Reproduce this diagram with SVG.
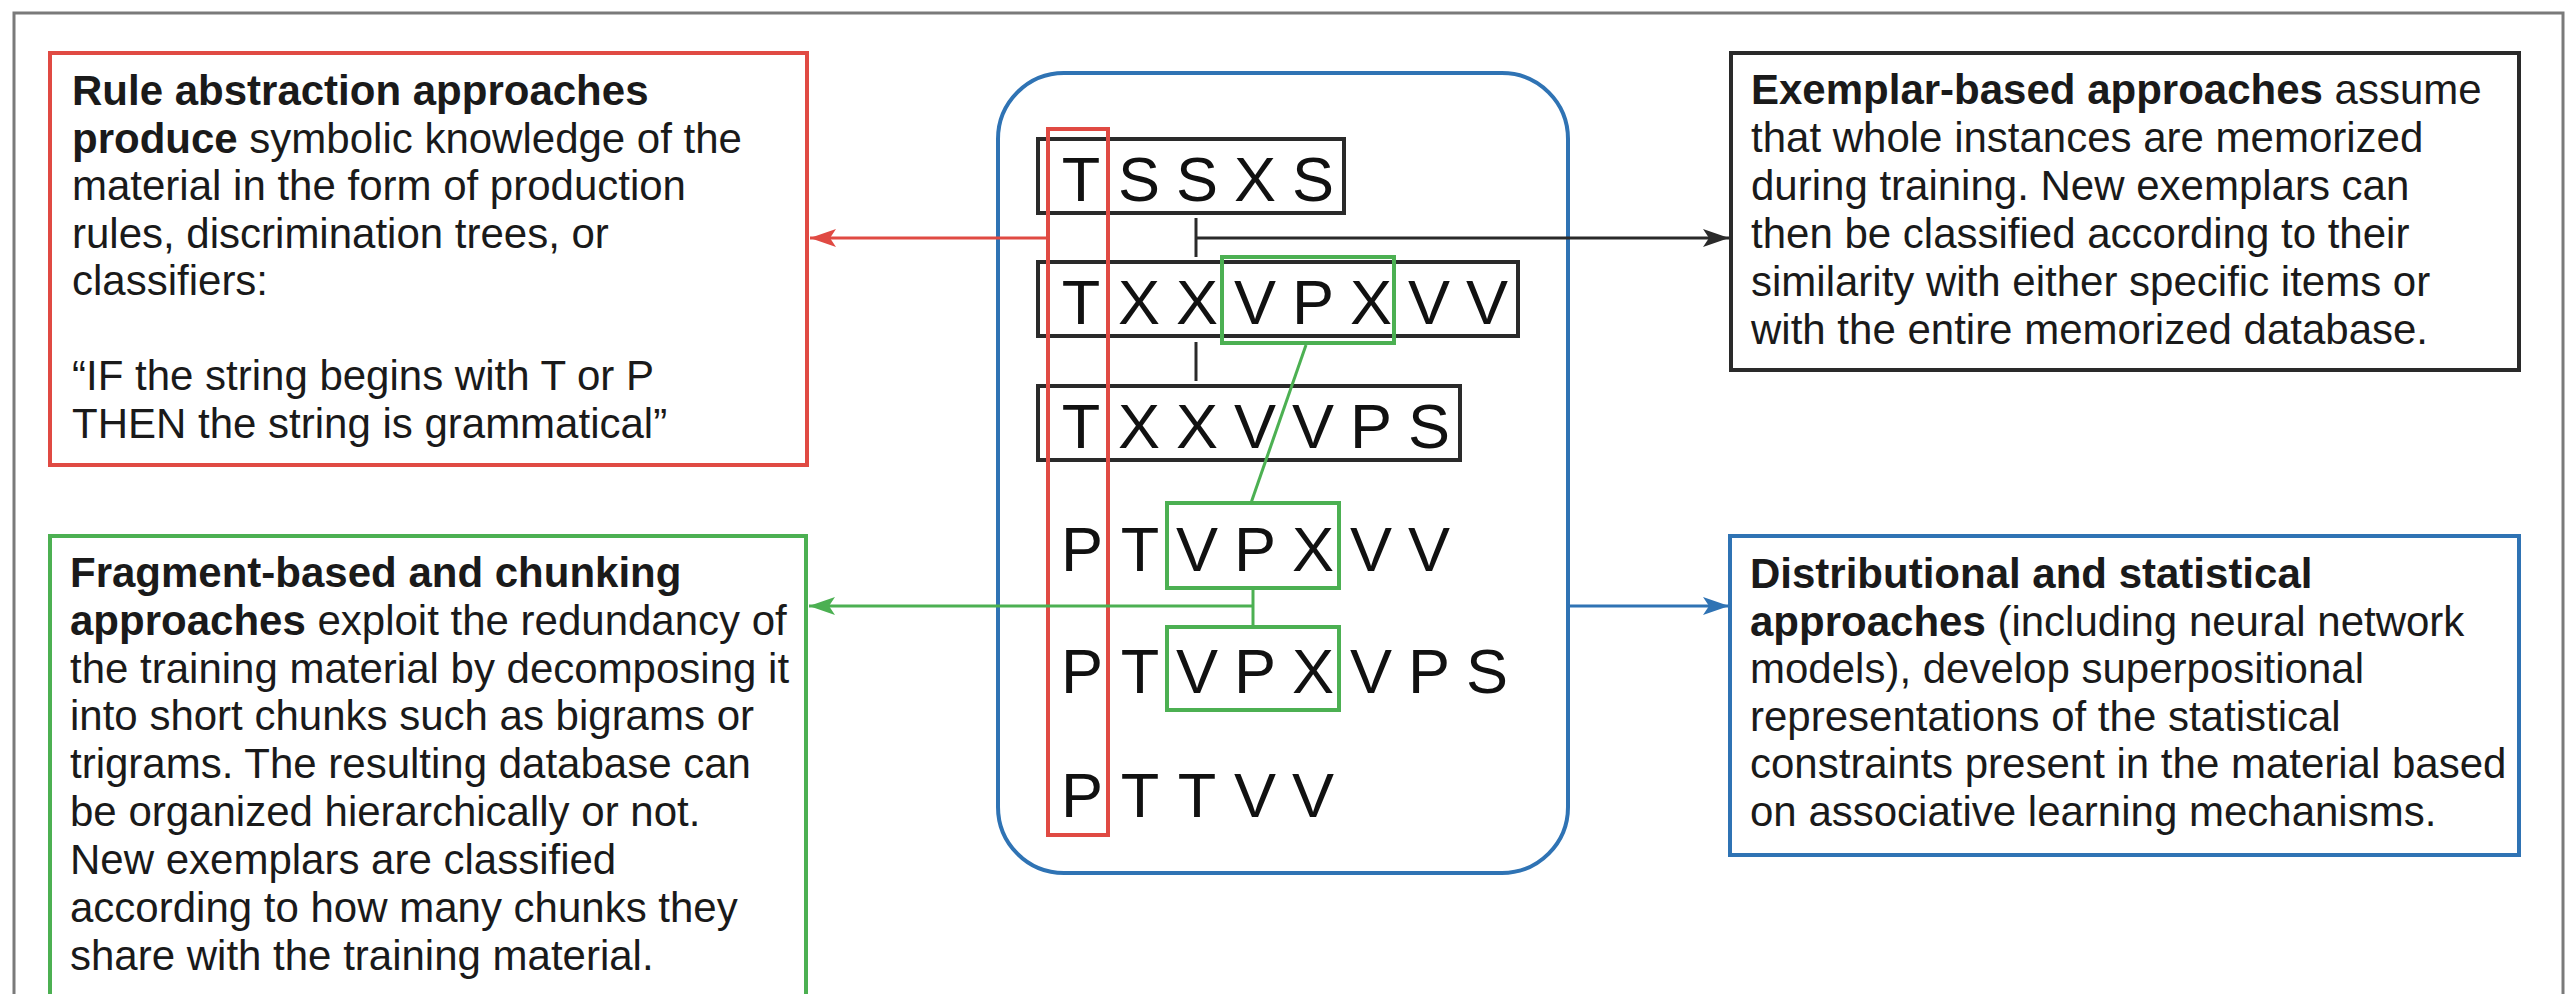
<svg xmlns="http://www.w3.org/2000/svg" width="2574" height="994" viewBox="0 0 2574 994">
<style>
.txt{font-family:"Liberation Sans",Arial,Helvetica,sans-serif;font-size:42px;fill:#1a1a1a}
.b{font-weight:bold}
.let{font-family:"Liberation Sans",Arial,Helvetica,sans-serif;font-size:63px;fill:#111;text-anchor:middle}
.box{fill:#fff;stroke-width:4}
.red{stroke:#e04a43}
.green{stroke:#4cb052}
.blue{stroke:#2f73b4}
.blk{stroke:#2a2a2a}
.lbox{fill:none;stroke:#2a2a2a;stroke-width:4}
.conn{fill:none;stroke-width:3}
</style>
<defs>
<marker id="aR" markerUnits="userSpaceOnUse" markerWidth="26" markerHeight="18" refX="26" refY="9" orient="auto"><path d="M0,0 L26,9 L0,18 L6,9 z" fill="#e04a43"/></marker>
<marker id="aG" markerUnits="userSpaceOnUse" markerWidth="26" markerHeight="18" refX="26" refY="9" orient="auto"><path d="M0,0 L26,9 L0,18 L6,9 z" fill="#4cb052"/></marker>
<marker id="aB" markerUnits="userSpaceOnUse" markerWidth="26" markerHeight="18" refX="26" refY="9" orient="auto"><path d="M0,0 L26,9 L0,18 L6,9 z" fill="#2f73b4"/></marker>
<marker id="aK" markerUnits="userSpaceOnUse" markerWidth="26" markerHeight="18" refX="26" refY="9" orient="auto"><path d="M0,0 L26,9 L0,18 L6,9 z" fill="#2a2a2a"/></marker>
</defs>
<rect x="0" y="0" width="2574" height="994" fill="#fff"/>
<rect id="frame" x="14" y="13" width="2549" height="1010" fill="none" stroke="#7a7a7a" stroke-width="3"/>

<g id="rule-box">
<rect class="box red" x="50" y="53" width="757" height="412"/>
<text class="txt" x="72" y="105"><tspan class="b">Rule abstraction approaches</tspan></text>
<text class="txt" x="72" y="152.5"><tspan class="b">produce</tspan> symbolic knowledge of the</text>
<text class="txt" x="72" y="200">material in the form of production</text>
<text class="txt" x="72" y="247.5">rules, discrimination trees, or</text>
<text class="txt" x="72" y="295">classifiers:</text>
<text class="txt" x="72" y="390">“IF the string begins with T or P</text>
<text class="txt" x="72" y="437.5">THEN the string is grammatical”</text>
</g>

<g id="fragment-box">
<rect class="box green" x="50" y="536" width="756" height="500"/>
<text class="txt" x="70" y="587"><tspan class="b">Fragment-based and chunking</tspan></text>
<text class="txt" x="70" y="635"><tspan class="b">approaches</tspan> exploit the redundancy of</text>
<text class="txt" x="70" y="682.5">the training material by decomposing it</text>
<text class="txt" x="70" y="730">into short chunks such as bigrams or</text>
<text class="txt" x="70" y="778">trigrams. The resulting database can</text>
<text class="txt" x="70" y="826">be organized hierarchically or not.</text>
<text class="txt" x="70" y="874">New exemplars are classified</text>
<text class="txt" x="70" y="922">according to how many chunks they</text>
<text class="txt" x="70" y="970">share with the training material.</text>
</g>

<g id="exemplar-box">
<rect class="box blk" x="1731" y="53" width="788" height="317"/>
<text class="txt" x="1751" y="104"><tspan class="b">Exemplar-based approaches</tspan> assume</text>
<text class="txt" x="1751" y="152">that whole instances are memorized</text>
<text class="txt" x="1751" y="200">during training. New exemplars can</text>
<text class="txt" x="1751" y="248">then be classified according to their</text>
<text class="txt" x="1751" y="296">similarity with either specific items or</text>
<text class="txt" x="1751" y="344">with the entire memorized database.</text>
</g>

<g id="distributional-box">
<rect class="box blue" x="1730" y="536" width="789" height="319"/>
<text class="txt" x="1750" y="588"><tspan class="b">Distributional and statistical</tspan></text>
<text class="txt" x="1750" y="635.5"><tspan class="b">approaches</tspan> (including neural network</text>
<text class="txt" x="1750" y="683">models), develop superpositional</text>
<text class="txt" x="1750" y="730.5">representations of the statistical</text>
<text class="txt" x="1750" y="778">constraints present in the material based</text>
<text class="txt" x="1750" y="826">on associative learning mechanisms.</text>
</g>

<g id="training-set">
<rect class="box blue" x="998" y="73" width="570" height="800" rx="66" ry="66"/>
<rect class="lbox" x="1038" y="139" width="306" height="74"/>
<rect class="lbox" x="1038" y="262" width="480" height="74"/>
<rect class="lbox" x="1038" y="386" width="422" height="74"/>
<rect fill="none" class="green" stroke-width="4" x="1222" y="257" width="172" height="86"/>
<rect fill="none" class="green" stroke-width="4" x="1167" y="503" width="172" height="85"/>
<rect fill="none" class="green" stroke-width="4" x="1167" y="627" width="172" height="83"/>
<rect fill="none" class="red" stroke-width="4" x="1048" y="129" width="60" height="706"/>
<text class="let" y="201"><tspan x="1081">T</tspan><tspan x="1139">S</tspan><tspan x="1197">S</tspan><tspan x="1255">X</tspan><tspan x="1313">S</tspan></text>
<text class="let" y="324"><tspan x="1081">T</tspan><tspan x="1139">X</tspan><tspan x="1197">X</tspan><tspan x="1255">V</tspan><tspan x="1313">P</tspan><tspan x="1371">X</tspan><tspan x="1429">V</tspan><tspan x="1487">V</tspan></text>
<text class="let" y="448"><tspan x="1081">T</tspan><tspan x="1139">X</tspan><tspan x="1197">X</tspan><tspan x="1255">V</tspan><tspan x="1313">V</tspan><tspan x="1371">P</tspan><tspan x="1429">S</tspan></text>
<text class="let" y="571"><tspan x="1082">P</tspan><tspan x="1140">T</tspan><tspan x="1197">V</tspan><tspan x="1255">P</tspan><tspan x="1313">X</tspan><tspan x="1371">V</tspan><tspan x="1429">V</tspan></text>
<text class="let" y="693"><tspan x="1082">P</tspan><tspan x="1140">T</tspan><tspan x="1197">V</tspan><tspan x="1255">P</tspan><tspan x="1313">X</tspan><tspan x="1371">V</tspan><tspan x="1429">P</tspan><tspan x="1487">S</tspan></text>
<text class="let" y="817"><tspan x="1082">P</tspan><tspan x="1140">T</tspan><tspan x="1197">T</tspan><tspan x="1255">V</tspan><tspan x="1313">V</tspan></text>
</g>

<g id="connectors">
<line class="conn blk" x1="1196" y1="218" x2="1196" y2="257"/>
<line class="conn blk" x1="1196" y1="342" x2="1196" y2="381"/>
<line class="conn blk" x1="1196" y1="238" x2="1729" y2="238" marker-end="url(#aK)"/>
<line class="conn red" x1="1048" y1="238" x2="810" y2="238" marker-end="url(#aR)"/>
<line class="conn green" x1="1306" y1="345" x2="1251" y2="503"/>
<line class="conn green" x1="1253" y1="588" x2="1253" y2="627"/>
<line class="conn green" x1="1253" y1="606" x2="809" y2="606" marker-end="url(#aG)"/>
<line class="conn blue" x1="1568" y1="606" x2="1729" y2="606" marker-end="url(#aB)"/>
</g>
</svg>
